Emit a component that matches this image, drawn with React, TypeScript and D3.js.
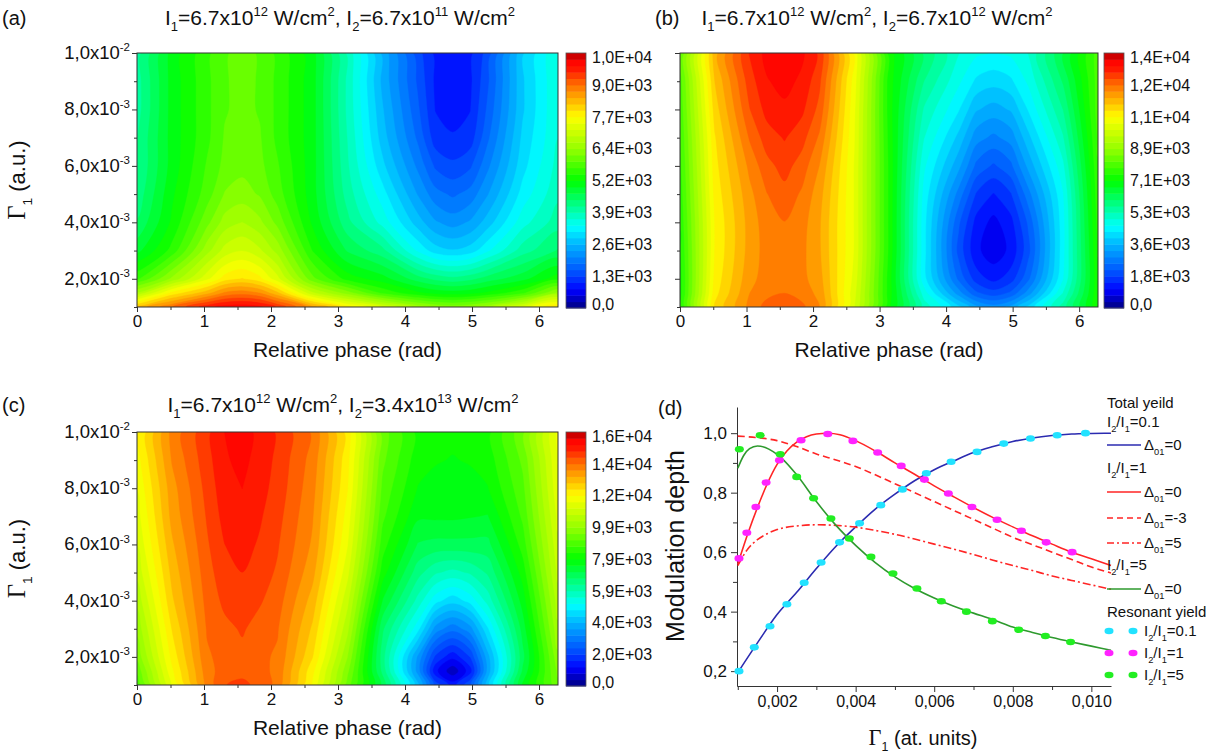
import React, { useEffect, useRef } from 'react';
import * as d3 from 'd3';

const W = 1219;
const H = 753;
const SANS = 'Arial, "Liberation Sans", Helvetica, sans-serif';
const SERIF = '"Times New Roman", "Liberation Serif", serif';

// sampling grid of the three contour maps (denser around the extrema)
const phases = [0, 0.5236, 1.0472, 1.309, 1.5708, 1.8326, 2.0944, 2.618, 3.1416, 3.6652, 4.1888, 4.4506, 4.7124, 4.9742, 5.236, 5.7596, 6.2832];
const gammas = [0.001, 0.0015, 0.002, 0.003, 0.004, 0.005, 0.006, 0.007, 0.008, 0.009, 0.01];

// yield x1e3, one row per gamma (low -> high), one column per phase
const yieldA = [
  [8.3, 9.0, 9.7, 9.9, 9.95, 9.85, 9.5, 8.6, 7.8, 7.2, 6.6, 6.4, 6.3, 6.4, 6.6, 7.3, 8.0],
  [6.7, 7.8, 8.4, 8.8, 8.9, 8.75, 8.3, 7.0, 6.3, 5.6, 5.2, 5.05, 5.0, 5.05, 5.2, 5.6, 6.5],
  [5.6, 6.5, 7.4, 7.85, 8.0, 7.8, 7.3, 6.0, 5.3, 5.0, 4.5, 4.3, 4.2, 4.3, 4.5, 4.8, 5.3],
  [4.8, 5.5, 6.6, 7.05, 7.2, 7.0, 6.6, 5.4, 4.6, 4.2, 3.3, 2.95, 2.85, 2.95, 3.3, 4.0, 4.4],
  [4.4, 5.2, 6.1, 6.55, 6.7, 6.5, 6.1, 5.1, 4.2, 3.5, 2.7, 2.35, 2.2, 2.35, 2.7, 3.5, 4.0],
  [4.2, 5.1, 5.8, 6.2, 6.3, 6.15, 5.8, 5.0, 4.0, 3.2, 2.3, 1.9, 1.75, 1.9, 2.3, 3.2, 3.8],
  [4.1, 5.0, 5.7, 6.0, 6.1, 6.0, 5.7, 5.0, 3.9, 2.9, 2.0, 1.5, 1.35, 1.5, 2.0, 3.0, 3.7],
  [4.1, 5.0, 5.6, 5.95, 6.05, 5.95, 5.6, 5.0, 3.85, 2.7, 1.75, 1.15, 1.05, 1.15, 1.75, 2.9, 3.6],
  [4.0, 5.0, 5.6, 5.9, 6.0, 5.9, 5.6, 5.0, 3.8, 2.6, 1.6, 1.02, 0.95, 1.02, 1.6, 2.8, 3.6],
  [4.0, 5.0, 5.6, 5.9, 6.0, 5.9, 5.6, 5.0, 3.8, 2.5, 1.5, 0.98, 0.9, 0.98, 1.5, 2.8, 3.6],
  [4.0, 5.0, 5.6, 5.9, 6.0, 5.9, 5.6, 5.0, 3.8, 2.5, 1.4, 0.97, 0.88, 0.97, 1.4, 2.8, 3.6],
];

const yieldB = [
  [7.3, 11.1, 12.2, 12.6, 12.8, 12.55, 12.1, 10.0, 7.2, 5.2, 4.0, 3.3, 3.0, 3.3, 4.0, 5.5, 7.4],
  [7.3, 10.9, 12.1, 12.35, 12.45, 12.3, 12.0, 10.1, 7.3, 4.8, 3.0, 2.2, 1.9, 2.2, 3.0, 5.0, 7.4],
  [7.3, 10.8, 12.0, 12.25, 12.35, 12.2, 11.9, 10.2, 7.3, 4.4, 2.4, 1.6, 1.3, 1.6, 2.4, 4.6, 7.4],
  [7.4, 10.7, 11.9, 12.25, 12.35, 12.2, 11.8, 10.3, 7.4, 4.4, 2.0, 1.15, 0.85, 1.15, 2.0, 4.5, 7.5],
  [7.5, 10.7, 11.9, 12.3, 12.45, 12.25, 11.8, 10.3, 7.4, 4.4, 2.2, 1.3, 0.95, 1.3, 2.2, 4.5, 7.6],
  [7.6, 10.8, 12.0, 12.45, 12.7, 12.4, 11.9, 10.3, 7.4, 4.5, 2.7, 1.75, 1.4, 1.75, 2.7, 4.6, 7.7],
  [7.7, 10.9, 12.2, 12.7, 12.95, 12.65, 12.1, 10.3, 7.4, 4.7, 3.3, 2.4, 2.07, 2.4, 3.3, 4.9, 7.8],
  [7.8, 11.0, 12.5, 13.0, 13.2, 12.95, 12.4, 10.35, 7.35, 5.0, 3.8, 3.0, 2.75, 3.0, 3.8, 5.3, 7.9],
  [7.9, 11.2, 12.8, 13.3, 13.45, 13.25, 12.7, 10.4, 7.3, 5.3, 4.3, 3.6, 3.4, 3.6, 4.3, 5.7, 8.0],
  [8.0, 11.4, 13.0, 13.5, 13.65, 13.45, 12.9, 10.5, 7.3, 5.7, 4.7, 4.2, 4.05, 4.2, 4.7, 6.1, 8.0],
  [8.1, 11.6, 13.2, 13.65, 13.8, 13.6, 13.1, 10.6, 7.3, 6.0, 5.0, 4.7, 4.6, 4.7, 5.0, 6.4, 8.0],
];

const yieldC = [
  [8.8, 11.5, 13.6, 14.25, 14.3, 14.2, 13.7, 11.8, 9.3, 7.0, 4.1, 2.2, 1.4, 2.3, 4.2, 7.6, 9.4],
  [9.2, 11.8, 13.7, 14.05, 14.2, 14.0, 13.75, 12.0, 9.6, 6.6, 3.4, 1.3, 0.5, 1.4, 3.7, 7.2, 9.6],
  [9.6, 12.0, 13.8, 14.0, 14.15, 13.95, 13.8, 12.3, 9.9, 6.5, 3.5, 1.9, 1.3, 2.0, 3.8, 7.0, 9.8],
  [10.0, 12.3, 13.9, 14.15, 14.3, 14.1, 13.9, 12.6, 10.4, 6.8, 4.9, 3.4, 2.9, 3.4, 4.7, 7.3, 10.2],
  [10.4, 12.6, 14.0, 14.35, 14.5, 14.3, 14.05, 12.9, 10.8, 7.5, 5.8, 4.9, 4.5, 4.9, 5.7, 7.7, 10.5],
  [10.8, 12.8, 14.1, 14.5, 14.65, 14.45, 14.2, 13.2, 11.2, 8.1, 6.5, 6.0, 5.8, 6.0, 6.4, 8.1, 10.8],
  [11.1, 13.0, 14.2, 14.65, 14.8, 14.6, 14.3, 13.4, 11.5, 8.5, 7.1, 7.0, 7.0, 7.0, 7.0, 8.5, 11.0],
  [11.3, 13.2, 14.3, 14.8, 14.95, 14.7, 14.4, 13.5, 11.7, 8.8, 7.6, 7.6, 7.6, 7.55, 7.5, 8.8, 11.2],
  [11.5, 13.3, 14.4, 14.9, 15.05, 14.8, 14.5, 13.6, 11.9, 9.0, 7.9, 7.8, 7.8, 7.8, 7.9, 9.0, 11.4],
  [11.7, 13.5, 14.5, 15.0, 15.15, 14.9, 14.55, 13.7, 12.0, 9.2, 8.1, 7.95, 7.9, 7.95, 8.1, 9.2, 11.5],
  [11.8, 13.6, 14.55, 15.05, 15.2, 14.95, 14.6, 13.8, 12.1, 9.3, 8.2, 8.05, 8.0, 8.05, 8.2, 9.4, 11.6],
];

// colour scale tops and their tick labels
const zMaxA = 10304;
const zMaxB = 14240;
const zMaxC = 15840;
const cbLabelsA = ['0,0', '1,3E+03', '2,6E+03', '3,9E+03', '5,2E+03', '6,4E+03', '7,7E+03', '9,0E+03', '1,0E+04'];
const cbLabelsB = ['0,0', '1,8E+03', '3,6E+03', '5,3E+03', '7,1E+03', '8,9E+03', '1,1E+04', '1,2E+04', '1,4E+04'];
const cbLabelsC = ['0,0', '2,0E+03', '4,0E+03', '5,9E+03', '7,9E+03', '9,9E+03', '1,2E+04', '1,4E+04', '1,6E+04'];

const phaseTicks = [0, 1, 2, 3, 4, 5, 6];
const phaseMinor = [0.5, 1.5, 2.5, 3.5, 4.5, 5.5];
const gammaTicks = [0.002, 0.004, 0.006, 0.008, 0.01];
const gammaMinor = [0.001, 0.003, 0.005, 0.007, 0.009];
const gammaTickLabels = [['2,0x10', '-3'], ['4,0x10', '-3'], ['6,0x10', '-3'], ['8,0x10', '-3'], ['1,0x10', '-2']];

// panel titles: [text, mode]
const titleA = [['I', ''], ['1', 'sub'], ['=6.7x10', ''], ['12', 'sup'], [' W/cm', ''], ['2', 'sup'], [', I', ''], ['2', 'sub'], ['=6.7x10', ''], ['11', 'sup'], [' W/cm', ''], ['2', 'sup']];
const titleB = [['I', ''], ['1', 'sub'], ['=6.7x10', ''], ['12', 'sup'], [' W/cm', ''], ['2', 'sup'], [', I', ''], ['2', 'sub'], ['=6.7x10', ''], ['12', 'sup'], [' W/cm', ''], ['2', 'sup']];
const titleC = [['I', ''], ['1', 'sub'], ['=6.7x10', ''], ['12', 'sup'], [' W/cm', ''], ['2', 'sup'], [', I', ''], ['2', 'sub'], ['=3.4x10', ''], ['13', 'sup'], [' W/cm', ''], ['2', 'sup']];

// panel (d): modulation depth vs gamma
const lineX = [0.001, 0.0015, 0.002, 0.0025, 0.003, 0.0035, 0.004, 0.0045, 0.005, 0.0055, 0.006, 0.0065, 0.007, 0.0075, 0.008, 0.0085, 0.009, 0.0095, 0.01, 0.0105];
const blueY = [0.195, 0.295, 0.39, 0.465, 0.545, 0.62, 0.685, 0.745, 0.795, 0.84, 0.877, 0.907, 0.935, 0.955, 0.972, 0.984, 0.992, 0.997, 0.999, 1.0];
const dashY = [0.99, 0.985, 0.975, 0.955, 0.93, 0.91, 0.888, 0.86, 0.83, 0.8, 0.77, 0.74, 0.71, 0.68, 0.65, 0.625, 0.6, 0.575, 0.55, 0.53];
const redX = [0.001, 0.00125, 0.0015, 0.00175, 0.002, 0.00225, 0.0025, 0.00275, 0.003, 0.0033, 0.0036, 0.004, 0.0045, 0.005, 0.0055, 0.006, 0.0065, 0.007, 0.0075, 0.008, 0.0085, 0.009, 0.0095, 0.01, 0.0105];
const redY = [0.56, 0.66, 0.75, 0.83, 0.895, 0.94, 0.97, 0.988, 0.997, 1.0, 0.995, 0.975, 0.94, 0.9, 0.862, 0.823, 0.786, 0.75, 0.716, 0.685, 0.655, 0.627, 0.6, 0.578, 0.555];
const dotDashX = [0.001, 0.00125, 0.0015, 0.00175, 0.002, 0.0025, 0.003, 0.0035, 0.004, 0.0045, 0.005, 0.0055, 0.006, 0.0065, 0.007, 0.0075, 0.008, 0.0085, 0.009, 0.0095, 0.01, 0.0105];
const dotDashY = [0.555, 0.61, 0.642, 0.662, 0.676, 0.688, 0.692, 0.69, 0.684, 0.673, 0.66, 0.644, 0.627, 0.61, 0.592, 0.573, 0.555, 0.538, 0.52, 0.505, 0.49, 0.475];
const greenX = [0.001, 0.00115, 0.0013, 0.0015, 0.0017, 0.0019, 0.0021, 0.0025, 0.003, 0.0035, 0.004, 0.0045, 0.005, 0.0055, 0.006, 0.0065, 0.007, 0.0075, 0.008, 0.0085, 0.009, 0.0095, 0.01, 0.0105];
const greenY = [0.882, 0.925, 0.948, 0.957, 0.952, 0.938, 0.918, 0.86, 0.77, 0.69, 0.623, 0.565, 0.517, 0.478, 0.446, 0.418, 0.395, 0.373, 0.348, 0.33, 0.313, 0.298, 0.284, 0.27];

const cyanDotX = [0.00103, 0.00142, 0.00182, 0.00225, 0.00269, 0.00312, 0.00359, 0.0041, 0.00464, 0.00519, 0.0058, 0.00643, 0.00709, 0.00777, 0.00845, 0.00913, 0.00985];
const cyanDotY = [0.2, 0.28, 0.351, 0.425, 0.497, 0.565, 0.633, 0.697, 0.758, 0.811, 0.865, 0.904, 0.937, 0.965, 0.982, 0.993, 1.0];
const magDotX = [0.00103, 0.00123, 0.00146, 0.00172, 0.00206, 0.00261, 0.00329, 0.00393, 0.00456, 0.00516, 0.00575, 0.00636, 0.00696, 0.0076, 0.00822, 0.00885, 0.00951];
const magDotY = [0.579, 0.665, 0.752, 0.834, 0.909, 0.976, 0.997, 0.974, 0.935, 0.89, 0.844, 0.797, 0.752, 0.709, 0.672, 0.633, 0.6];
const grnDotX = [0.00104, 0.00157, 0.00208, 0.0025, 0.00293, 0.00337, 0.00384, 0.00439, 0.00495, 0.00556, 0.00618, 0.00682, 0.00748, 0.00815, 0.00883, 0.00947];
const grnDotY = [0.946, 0.993, 0.929, 0.853, 0.781, 0.713, 0.646, 0.584, 0.528, 0.478, 0.435, 0.4, 0.368, 0.339, 0.318, 0.298];

const depthTicks = [0.2, 0.4, 0.6, 0.8, 1.0];
const depthMinor = [0.3, 0.5, 0.7, 0.9];
const gTicksD = [0.002, 0.004, 0.006, 0.008, 0.01];
const gMinorD = [0.001, 0.003, 0.005, 0.007, 0.009];

const N_LEV = 40;
const rainbow = d3.scaleLinear<string>()
  .domain([0, 0.07, 0.14, 0.25, 0.32, 0.4, 0.5, 0.62, 0.75, 0.82, 0.88, 0.94, 0.972, 1])
  .range(['#000080', '#0000ff', '#0050ff', '#00b4ff', '#00ffff', '#00ff90', '#00ff00', '#90ff00', '#ffff00', '#ffb000', '#ff6a00', '#ff1400', '#ff0000', '#a80000'])
  .interpolate(d3.interpolateRgb)
  .clamp(true);

// text with sub/superscripts
function rich(parent, x, y, parts, fs, anchor = 'start', rot = 0) {
  const t = parent.append('text')
    .attr('x', x).attr('y', y)
    .attr('font-size', fs)
    .attr('font-family', SANS)
    .attr('text-anchor', anchor)
    .attr('fill', '#111');
  if (rot) t.attr('transform', `rotate(${rot},${x},${y})`);
  let shift = 0;
  parts.forEach(([s, m]) => {
    const target = m === 'sup' ? -0.42 * fs : m === 'sub' ? 0.3 * fs : 0;
    const sp = t.append('tspan').attr('dy', target - shift).text(s);
    if (m === 'sub' || m === 'sup') sp.attr('font-size', fs * 0.62);
    if (m === 'g') sp.attr('font-family', SERIF).attr('font-size', fs * 1.12);
    shift = target;
  });
  return t;
}

function heatPanel(svg, p, idx) {
  const { left, right, top, bottom, grid, zMax, cbLabels, cbX, title, titleX, titleY, tag, tagX, tagY, yLabels } = p;
  const x = d3.scaleLinear().domain([0, 2 * Math.PI]).range([left, right]);
  const y = d3.scaleLinear().domain([0.001, 0.01]).range([bottom, top]);
  const px = d3.scaleLinear().domain(phases.map((_, i) => i + 0.5)).range(phases.map(v => x(v)));
  const py = d3.scaleLinear().domain(gammas.map((_, i) => i + 0.5)).range(gammas.map(v => y(v)));

  const values = grid.flat().map(v => v * 1000);
  const thresholds = d3.range(N_LEV).map(i => (i * zMax) / N_LEV);
  const bands = d3.contours().size([phases.length, gammas.length]).thresholds(thresholds)(values);

  const clipId = `heat-clip-${idx}`;
  svg.append('clipPath').attr('id', clipId)
    .append('rect').attr('x', left).attr('y', top).attr('width', right - left).attr('height', bottom - top);

  const ring = d3.line().curve(d3.curveCatmullRomClosed.alpha(0.5));
  const g = svg.append('g').attr('clip-path', `url(#${clipId})`);
  bands.forEach((b, i) => {
    const d = b.coordinates
      .map(poly => poly.map(r => ring(r.slice(0, -1).map(([a, c]) => [px(a), py(c)]))).join(''))
      .join('');
    if (!d) return;
    g.append('path')
      .attr('d', d)
      .attr('fill', rainbow((i + 0.5) / N_LEV))
      .attr('fill-rule', 'evenodd')
      .attr('stroke', rainbow((i + 0.5) / N_LEV))
      .attr('stroke-width', 0.4);
  });

  svg.append('rect')
    .attr('x', left).attr('y', top).attr('width', right - left).attr('height', bottom - top)
    .attr('fill', 'none').attr('stroke', '#333').attr('stroke-width', 1);

  // ticks
  const ax = svg.append('g').attr('transform', `translate(0,${bottom})`)
    .call(d3.axisBottom(x).tickValues(phaseTicks).tickSize(5).tickSizeOuter(0).tickPadding(3).tickFormat(d3.format('d')));
  ax.select('.domain').remove();
  ax.attr('font-family', SANS).attr('font-size', 17);
  ax.selectAll('text').attr('fill', '#111');
  ax.selectAll('line').attr('stroke', '#333');
  const axm = svg.append('g').attr('transform', `translate(0,${bottom})`)
    .call(d3.axisBottom(x).tickValues(phaseMinor).tickSize(3).tickSizeOuter(0).tickFormat(() => ''));
  axm.select('.domain').remove();
  axm.selectAll('line').attr('stroke', '#333');

  const ay = svg.append('g').attr('transform', `translate(${left},0)`)
    .call(d3.axisLeft(y).tickValues(gammaTicks).tickSize(5).tickSizeOuter(0).tickFormat(() => ''));
  ay.select('.domain').remove();
  ay.selectAll('line').attr('stroke', '#333');
  const aym = svg.append('g').attr('transform', `translate(${left},0)`)
    .call(d3.axisLeft(y).tickValues(gammaMinor).tickSize(3).tickSizeOuter(0).tickFormat(() => ''));
  aym.select('.domain').remove();
  aym.selectAll('line').attr('stroke', '#333');

  if (yLabels) {
    gammaTicks.forEach((v, i) => {
      rich(svg, left - 7, y(v) + 6, [[gammaTickLabels[i][0], ''], [gammaTickLabels[i][1], 'sup']], 18.5, 'end');
    });
    rich(svg, 25, (top + bottom) / 2, [['Γ', 'g'], ['1', 'sub'], [' (a.u.)', '']], 22, 'middle', -90);
  }

  rich(svg, (left + right) / 2, bottom + 50, [['Relative phase (rad)', '']], 21, 'middle');
  rich(svg, titleX, titleY, title, 21, 'middle');
  rich(svg, tagX, tagY, [[tag, '']], 20, 'start');

  // colour bar
  const cbW = 20;
  const cy = d3.scaleLinear().domain([0, zMax]).range([bottom + 1, top]);
  const cb = svg.append('g');
  d3.range(N_LEV).forEach(i => {
    const v0 = (i * zMax) / N_LEV;
    const v1 = ((i + 1) * zMax) / N_LEV;
    cb.append('rect')
      .attr('x', cbX).attr('y', cy(v1)).attr('width', cbW).attr('height', cy(v0) - cy(v1) + 0.5)
      .attr('fill', rainbow((i + 0.5) / N_LEV));
  });
  cb.append('rect').attr('x', cbX).attr('y', top).attr('width', cbW).attr('height', bottom + 1 - top)
    .attr('fill', 'none').attr('stroke', '#555').attr('stroke-width', 0.8);
  cbLabels.forEach((lab, k) => {
    const yy = Math.min(Math.max(cy((k * zMax) / 8), top + 4), bottom - 3);
    svg.append('text')
      .attr('x', cbX + cbW + 6).attr('y', yy).attr('dy', '0.36em')
      .attr('font-family', SANS).attr('font-size', 16).attr('fill', '#111')
      .text(lab);
  });
}

function depthPanel(svg) {
  const x = d3.scaleLinear().domain([0.00098, 0.0105]).range([737, 1111]);
  const y = d3.scaleLinear().domain([0.15, 1.088]).range([686, 407]);

  const ax = svg.append('g').attr('transform', 'translate(0,686)')
    .call(d3.axisBottom(x).tickValues(gTicksD).tickSize(6).tickSizeOuter(0).tickPadding(4)
      .tickFormat(d => d3.format('.3f')(d).replace('.', ',')));
  ax.attr('font-family', SANS).attr('font-size', 16);
  ax.selectAll('text').attr('fill', '#111');
  ax.selectAll('line, path').attr('stroke', '#333');
  const axm = svg.append('g').attr('transform', 'translate(0,686)')
    .call(d3.axisBottom(x).tickValues(gMinorD).tickSize(4).tickSizeOuter(0).tickFormat(() => ''));
  axm.select('.domain').remove();
  axm.selectAll('line').attr('stroke', '#333');

  const ay = svg.append('g').attr('transform', 'translate(737,0)')
    .call(d3.axisLeft(y).tickValues(depthTicks).tickSize(6).tickSizeOuter(0).tickPadding(4)
      .tickFormat(d => d3.format('.1f')(d).replace('.', ',')));
  ay.attr('font-family', SANS).attr('font-size', 17);
  ay.selectAll('text').attr('fill', '#111');
  ay.selectAll('line, path').attr('stroke', '#333');
  const aym = svg.append('g').attr('transform', 'translate(737,0)')
    .call(d3.axisLeft(y).tickValues(depthMinor).tickSize(4).tickSizeOuter(0).tickFormat(() => ''));
  aym.select('.domain').remove();
  aym.selectAll('line').attr('stroke', '#333');

  const line = d3.line().curve(d3.curveMonotoneX);
  const series = [
    { xs: lineX, ys: blueY, color: '#2b2bb0', dash: null },
    { xs: redX, ys: redY, color: '#ff2525', dash: null },
    { xs: lineX, ys: dashY, color: '#ff2525', dash: '7,4' },
    { xs: dotDashX, ys: dotDashY, color: '#ff2525', dash: '8,3,2,3' },
    { xs: greenX, ys: greenY, color: '#2e9a2e', dash: null },
  ];
  series.forEach(s => {
    svg.append('path')
      .attr('d', line(s.xs.map((v, i) => [x(v), y(s.ys[i])])))
      .attr('fill', 'none').attr('stroke', s.color).attr('stroke-width', 1.6)
      .attr('stroke-dasharray', s.dash);
  });

  const dots = [
    { xs: cyanDotX, ys: cyanDotY, color: '#22e2ff' },
    { xs: magDotX, ys: magDotY, color: '#ff22ff' },
    { xs: grnDotX, ys: grnDotY, color: '#22ee22' },
  ];
  dots.forEach(s => {
    svg.append('g').selectAll('ellipse').data(s.xs).join('ellipse')
      .attr('cx', d => x(d)).attr('cy', (d, i) => y(s.ys[i]))
      .attr('rx', 4.5).attr('ry', 3.3).attr('fill', s.color);
  });

  rich(svg, 684, 546, [['Modulation depth', '']], 25, 'middle', -90);
  rich(svg, 923, 745, [['Γ', 'g'], ['1', 'sub'], [' (at. units)', '']], 20, 'middle');
  rich(svg, 658, 415, [['(d)', '']], 20, 'start');

  // legend
  const fs = 15;
  const lx = 1107;
  const tx = 1144;
  const ratio = (v) => [['I', ''], ['2', 'sub'], ['/I', ''], ['1', 'sub'], [`=${v}`, '']];
  const delta = (v) => [['Δ', ''], ['01', 'sub'], [`=${v}`, '']];
  const leg = svg.append('g');
  rich(leg, lx, 408, [['Total yeild', '']], fs);
  rich(leg, lx, 427, ratio('0.1'), fs);
  const legLines = [
    { yy: 445, color: '#2b2bb0', dash: null, lab: '0' },
    { yy: 492, color: '#ff2525', dash: null, lab: '0' },
    { yy: 518, color: '#ff2525', dash: '6,4', lab: '-3' },
    { yy: 543, color: '#ff2525', dash: '7,3,2,3', lab: '5' },
    { yy: 589, color: '#2e9a2e', dash: null, lab: '0' },
  ];
  legLines.forEach(l => {
    leg.append('line').attr('x1', lx).attr('x2', lx + 34).attr('y1', l.yy).attr('y2', l.yy)
      .attr('stroke', l.color).attr('stroke-width', 1.6).attr('stroke-dasharray', l.dash);
    rich(leg, tx, l.yy + 5, delta(l.lab), fs);
  });
  rich(leg, lx, 473, ratio('1'), fs);
  rich(leg, lx, 570, ratio('5'), fs);
  rich(leg, lx, 617, [['Resonant yield', '']], fs);
  const legDots = [
    { yy: 631, color: '#22e2ff', lab: '0.1' },
    { yy: 653, color: '#ff22ff', lab: '1' },
    { yy: 675, color: '#22ee22', lab: '5' },
  ];
  legDots.forEach(l => {
    [lx + 2, lx + 26].forEach(cx => {
      leg.append('ellipse').attr('cx', cx).attr('cy', l.yy).attr('rx', 4.5).attr('ry', 3.3).attr('fill', l.color);
    });
    rich(leg, tx, l.yy + 5, ratio(l.lab), fs);
  });
}

export default function App() {
  const ref = useRef<SVGSVGElement>(null);

  useEffect(() => {
    if (!ref.current) return;
    const svg = d3.select(ref.current);
    svg.selectAll('*').remove();
    svg.append('rect').attr('width', W).attr('height', H).attr('fill', '#fff');

    const panels = [
      { left: 137, right: 558, top: 53, bottom: 307, grid: yieldA, zMax: zMaxA, cbLabels: cbLabelsA, cbX: 566,
        title: titleA, titleX: 340, titleY: 25, tag: '(a)', tagX: 2, tagY: 25, yLabels: true },
      { left: 680, right: 1098, top: 53, bottom: 307, grid: yieldB, zMax: zMaxB, cbLabels: cbLabelsB, cbX: 1104,
        title: titleB, titleX: 877, titleY: 25, tag: '(b)', tagX: 655, tagY: 25, yLabels: false },
      { left: 137, right: 558, top: 432, bottom: 685, grid: yieldC, zMax: zMaxC, cbLabels: cbLabelsC, cbX: 566,
        title: titleC, titleX: 343, titleY: 412, tag: '(c)', tagX: 2, tagY: 412, yLabels: true },
    ];
    panels.forEach((p, i) => heatPanel(svg, p, i));
    depthPanel(svg);
  }, []);

  return (
    <svg ref={ref} width={W} height={H} style={{ position: 'absolute', left: 0, top: 0 }} />
  );
}
